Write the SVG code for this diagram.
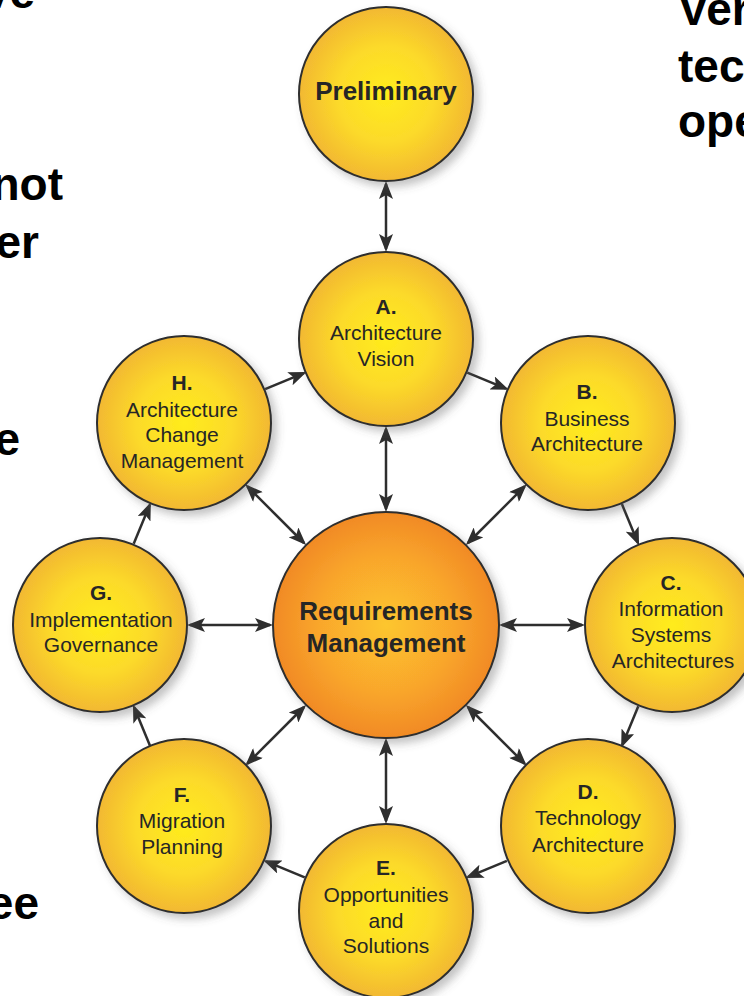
<svg xmlns="http://www.w3.org/2000/svg" width="744" height="996" viewBox="0 0 744 996">
<defs>
<radialGradient id="gy" cx="50%" cy="50%" r="50%">
<stop offset="0%" stop-color="#FFEC1C"/>
<stop offset="55%" stop-color="#FCDA2A"/>
<stop offset="100%" stop-color="#F2B831"/>
</radialGradient>
<radialGradient id="go" cx="50%" cy="50%" r="50%">
<stop offset="0%" stop-color="#FDC62E"/>
<stop offset="60%" stop-color="#F9A62C"/>
<stop offset="100%" stop-color="#F18A24"/>
</radialGradient>
<filter id="sh" x="-20%" y="-20%" width="150%" height="150%">
<feDropShadow dx="5" dy="5" stdDeviation="4" flood-color="#555" flood-opacity="0.35"/>
</filter>
<marker id="ah" viewBox="0 0 18 14" markerUnits="userSpaceOnUse" markerWidth="18" markerHeight="14" refX="15" refY="7" orient="auto-start-reverse">
<path d="M0,0 L18,7 L0,14 L4,7 z" fill="#2e2e2e"/>
</marker>
</defs>
<style>
.n{fill:url(#gy);stroke:#2e2e2e;stroke-width:2;filter:url(#sh)}
.r{fill:url(#go);stroke:#2e2e2e;stroke-width:2;filter:url(#sh)}
.t{font-family:"Liberation Sans",Arial,sans-serif;font-size:21px;fill:#262626;text-anchor:middle}
.b{font-weight:bold}
.big{font-family:"Liberation Sans",Arial,sans-serif;font-size:26px;font-weight:bold;fill:#262626;text-anchor:middle}
.edge{font-family:"Liberation Sans",Arial,sans-serif;font-size:46px;font-weight:bold;fill:#000}
.c{stroke:#2e2e2e;stroke-width:2.5;fill:none}
.one{marker-end:url(#ah)}
.two{marker-start:url(#ah);marker-end:url(#ah)}
</style>
<rect width="744" height="996" fill="#fff"/>
<g id="edge-text">
<text class="edge" x="35" y="8" text-anchor="end">ve</text>
<text class="edge" x="63" y="200" text-anchor="end">not</text>
<text class="edge" x="39" y="258" text-anchor="end">er</text>
<text class="edge" x="20" y="455" text-anchor="end">e</text>
<text class="edge" x="39" y="919" text-anchor="end">ee</text>
<text class="edge" x="678" y="25">Ver</text>
<text class="edge" x="678" y="82">tec</text>
<text class="edge" x="678" y="137">ope</text>
</g>
<g id="connectors">
<line class="c two" x1="386" y1="184" x2="386" y2="249"/>
<line class="c one" x1="467.3" y1="372.7" x2="506" y2="388.7"/>
<line class="c one" x1="621.9" y1="504.1" x2="637.9" y2="542.8"/>
<line class="c one" x1="638.3" y1="706.3" x2="622.3" y2="745"/>
<line class="c one" x1="506.9" y1="860.9" x2="468.2" y2="876.9"/>
<line class="c one" x1="304.7" y1="877.3" x2="266" y2="861.3"/>
<line class="c one" x1="150.1" y1="745.9" x2="134.1" y2="707.2"/>
<line class="c one" x1="133.7" y1="543.7" x2="149.7" y2="505"/>
<line class="c one" x1="265.1" y1="389.1" x2="303.8" y2="373.1"/>
<line class="c two" x1="386" y1="509" x2="386" y2="429"/>
<line class="c two" x1="468" y1="543" x2="524.6" y2="486.4"/>
<line class="c two" x1="502" y1="625" x2="582" y2="625"/>
<line class="c two" x1="468" y1="707" x2="524.6" y2="763.6"/>
<line class="c two" x1="386" y1="741" x2="386" y2="821"/>
<line class="c two" x1="304" y1="707" x2="247.4" y2="763.6"/>
<line class="c two" x1="270" y1="625" x2="190" y2="625"/>
<line class="c two" x1="304" y1="543" x2="247.4" y2="486.4"/>
</g>
<g id="preliminary">
<circle class="n" cx="386" cy="94" r="87"/>
<text class="big" x="386" y="100">Preliminary</text>
</g>
<g id="requirements">
<circle class="r" cx="386" cy="625" r="113"/>
<text class="big" x="386" y="620">Requirements</text>
<text class="big" x="386" y="652">Management</text>
</g>
<g id="a">
<circle class="n" cx="386" cy="339" r="87"/>
<text class="t b" x="386" y="314">A.</text>
<text class="t" x="386" y="340">Architecture</text>
<text class="t" x="386" y="366">Vision</text>
</g>
<g id="b">
<circle class="n" cx="588" cy="423" r="87"/>
<text class="t b" x="587" y="399">B.</text>
<text class="t" x="587" y="426">Business</text>
<text class="t" x="587" y="451">Architecture</text>
</g>
<g id="c">
<circle class="n" cx="672" cy="625" r="87"/>
<text class="t b" x="671" y="590">C.</text>
<text class="t" x="671" y="616">Information</text>
<text class="t" x="671" y="642">Systems</text>
<text class="t" x="673" y="668">Architectures</text>
</g>
<g id="d">
<circle class="n" cx="588" cy="826" r="87"/>
<text class="t b" x="588" y="799">D.</text>
<text class="t" x="588" y="825">Technology</text>
<text class="t" x="588" y="852">Architecture</text>
</g>
<g id="e">
<circle class="n" cx="386" cy="911" r="87"/>
<text class="t b" x="386" y="875">E.</text>
<text class="t" x="386" y="902">Opportunities</text>
<text class="t" x="386" y="928">and</text>
<text class="t" x="386" y="953">Solutions</text>
</g>
<g id="f">
<circle class="n" cx="184" cy="826" r="87"/>
<text class="t b" x="182" y="802">F.</text>
<text class="t" x="182" y="828">Migration</text>
<text class="t" x="182" y="854">Planning</text>
</g>
<g id="g">
<circle class="n" cx="100" cy="625" r="87"/>
<text class="t b" x="101" y="600">G.</text>
<text class="t" x="101" y="627">Implementation</text>
<text class="t" x="101" y="652">Governance</text>
</g>
<g id="h">
<circle class="n" cx="184" cy="423" r="87"/>
<text class="t b" x="182" y="390">H.</text>
<text class="t" x="182" y="417">Architecture</text>
<text class="t" x="182" y="442">Change</text>
<text class="t" x="182" y="468">Management</text>
</g>
</svg>
